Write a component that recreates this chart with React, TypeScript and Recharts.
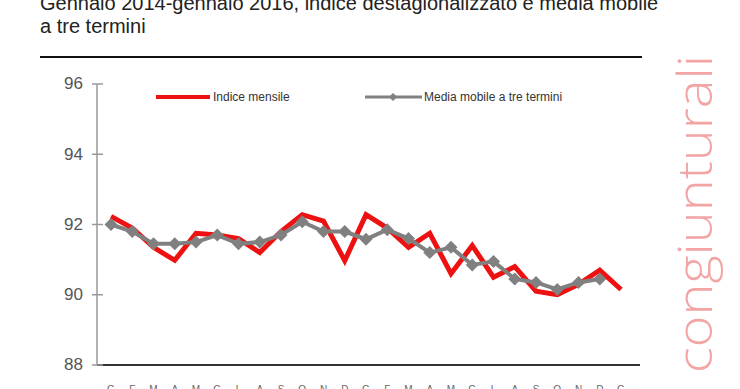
import React from 'react';
import { LineChart, Line, XAxis, YAxis, Legend } from 'recharts';

const months = ['G', 'F', 'M', 'A', 'M', 'G', 'L', 'A', 'S', 'O', 'N', 'D', 'G', 'F', 'M', 'A', 'M', 'G', 'L', 'A', 'S', 'O', 'N', 'D', 'G'];
const indiceMensile = [92.23, 91.9, 91.35, 90.98, 91.75, 91.7, 91.6, 91.2, 91.8, 92.28, 92.1, 90.97, 92.28, 91.9, 91.35, 91.75, 90.6, 91.4, 90.5, 90.8, 90.1, 90.0, 90.3, 90.7, 90.15];
const mediaMobile = [92.0, 91.8, 91.45, 91.45, 91.5, 91.7, 91.45, 91.5, 91.7, 92.08, 91.8, 91.8, 91.58, 91.85, 91.6, 91.2, 91.35, 90.85, 90.95, 90.45, 90.35, 90.15, 90.35, 90.45, null];
const yTicks = [88, 90, 92, 94, 96];

const data = months.map((m, i) => ({ m, idx: i, indice: indiceMensile[i], media: mediaMobile[i] }));

const RED = '#ee1111';
const GRAY = '#808080';

const YTick = (props: any) => {
  const { x, y, payload } = props;
  return (
    <g>
      <line x1={x - 5} x2={x + 6} y1={y} y2={y} stroke="#999" strokeWidth={1.5} />
      <text x={x - 14} y={y + 1} textAnchor="end" fontSize={17} fill="#555" fontFamily="Liberation Sans Narrow, Liberation Sans, Arial" dominantBaseline="middle">
        {payload.value}
      </text>
    </g>
  );
};

const XTick = (props: any) => {
  const { x, y, payload } = props;
  return (
    <text x={x} y={y + 20} textAnchor="middle" fontSize={10} fill="#666" fontFamily="Liberation Sans, Arial">
      {months[payload.value]}
    </text>
  );
};

const Diamond = (props: any) => {
  const { cx, cy } = props;
  if (cx == null || cy == null) return null;
  const s = 6.5;
  return <path d={`M${cx},${cy - s}L${cx + s},${cy}L${cx},${cy + s}L${cx - s},${cy}Z`} fill={GRAY} />;
};

const LegendContent = () => (
  <div style={{ position: 'relative', width: 440, height: 20, fontFamily: 'Liberation Sans Narrow, Liberation Sans, Arial', fontSize: 12, color: '#333' }}>
    <svg width={440} height={20} style={{ position: 'absolute', left: 0, top: 0 }}>
      <line x1={6} x2={60} y1={9} y2={9} stroke={RED} strokeWidth={4} />
      <line x1={215} x2={272} y1={9} y2={9} stroke={GRAY} strokeWidth={3} />
      <path d="M243,5L247,9L243,13L239,9Z" fill={GRAY} />
    </svg>
    <span style={{ position: 'absolute', left: 63, top: 2 }}>Indice mensile</span>
    <span style={{ position: 'absolute', left: 274, top: 2 }}>Media mobile a tre termini</span>
  </div>
);

export default function App() {
  return (
    <div style={{ position: 'absolute', left: 0, top: 0, width: 740, height: 389, overflow: 'hidden', background: '#fff' }}>
      <svg width={740} height={389} style={{ position: 'absolute', left: 0, top: 0 }}>
        <text x={40} y={10} fontSize={20} fill="#222" fontFamily="Liberation Sans, Arial">
          Gennaio 2014-gennaio 2016, indice destagionalizzato e media mobile
        </text>
        <text x={40} y={33} fontSize={20} fill="#222" fontFamily="Liberation Sans, Arial">
          a tre termini
        </text>
        <line x1={40} x2={642} y1={57} y2={57} stroke="#111" strokeWidth={2} />
        <text
          x={0}
          y={0}
          transform="translate(712,373) rotate(-90)"
          fontSize={48}
          fontWeight={300}
          fill="#f3a5a5"
          fontFamily="Open Sans, Noto Sans, sans-serif"
          textLength={318}
          lengthAdjust="spacingAndGlyphs"
        >
          congiunturali
        </text>
      </svg>
      <div style={{ position: 'absolute', left: 0, top: 0 }}>
        <LineChart width={740} height={389} data={data} margin={{ top: 64, right: 100, bottom: 0, left: 0 }}>
          <XAxis
            dataKey="idx"
            type="category"
            interval={0}
            padding={{ left: 14, right: 19 }}
            height={24}
            axisLine={{ stroke: '#333', strokeWidth: 2 }}
            tickLine={false}
            tick={<XTick />}
          />
          <YAxis
            domain={[88, 96]}
            ticks={yTicks}
            width={97}
            axisLine={{ stroke: '#999', strokeWidth: 1.5 }}
            tickLine={false}
            tickSize={0}
            tickMargin={0}
            tick={<YTick />}
          />
          <Legend
            verticalAlign="top"
            align="left"
            content={<LegendContent />}
            wrapperStyle={{ position: 'absolute', left: 150, top: 88, width: 440 }}
          />
          <Line
            dataKey="indice"
            stroke={RED}
            strokeWidth={5}
            dot={false}
            isAnimationActive={false}
          />
          <Line
            dataKey="media"
            stroke={GRAY}
            strokeWidth={4}
            dot={<Diamond />}
            activeDot={false}
            isAnimationActive={false}
          />
        </LineChart>
      </div>
    </div>
  );
}
